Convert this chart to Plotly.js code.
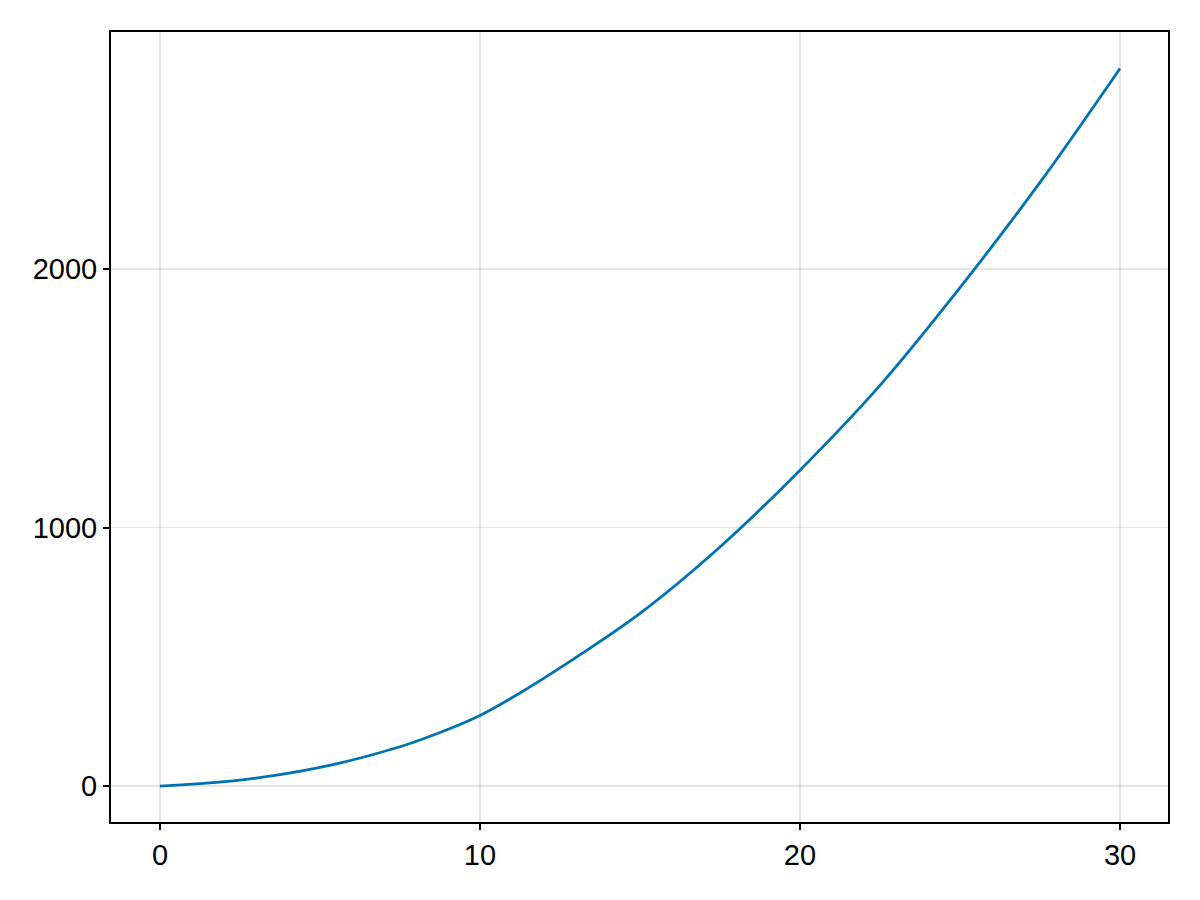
<!DOCTYPE html>
<html>
<head>
<meta charset="utf-8">
<script src="https://cdn.plot.ly/plotly-3.0.1.min.js"></script>
<style>html,body{margin:0;padding:0;background:#fff;}#chart{width:1200px;height:900px;}</style>
</head>
<body>
<div id="chart"></div>
<script>
const xValues = [0, 2.5, 5, 7.5, 8.75, 10, 11.25, 12.5, 15, 17.5, 20, 22.5, 25, 27.5, 30];
const yValues = [0, 23, 72, 152, 207, 273, 360, 457, 668, 925, 1222, 1550, 1928, 2335, 2776];
const xTicks = [0, 10, 20, 30];
const yTicks = [0, 1000, 2000];

const axisCommon = {
  showline: true, mirror: true, linecolor: '#000', linewidth: 2,
  showgrid: true, gridcolor: 'rgba(0,0,0,0.1)', gridwidth: 1.5,
  zeroline: false, ticks: 'outside', ticklen: 6, tickwidth: 2, tickcolor: '#000',
  tickfont: {family: 'Liberation Sans, Arial, sans-serif', size: 29, color: '#000'},
  tickmode: 'array'
};

Plotly.newPlot('chart', [{
  x: xValues, y: yValues, type: 'scatter', mode: 'lines',
  line: {color: 'rgb(0,114,178)', width: 2.8, shape: 'spline', smoothing: 1},
  showlegend: false
}], {
  width: 1200, height: 900,
  margin: {l: 111, r: 32, t: 32, b: 78},
  paper_bgcolor: '#fff', plot_bgcolor: '#fff',
  xaxis: Object.assign({}, axisCommon, {range: [-1.53, 31.5], tickvals: xTicks, ticktext: xTicks.map(String)}),
  yaxis: Object.assign({}, axisCommon, {range: [-139, 2917], tickvals: yTicks, ticktext: yTicks.map(String)})
}, {staticPlot: true});
</script>
</body>
</html>
